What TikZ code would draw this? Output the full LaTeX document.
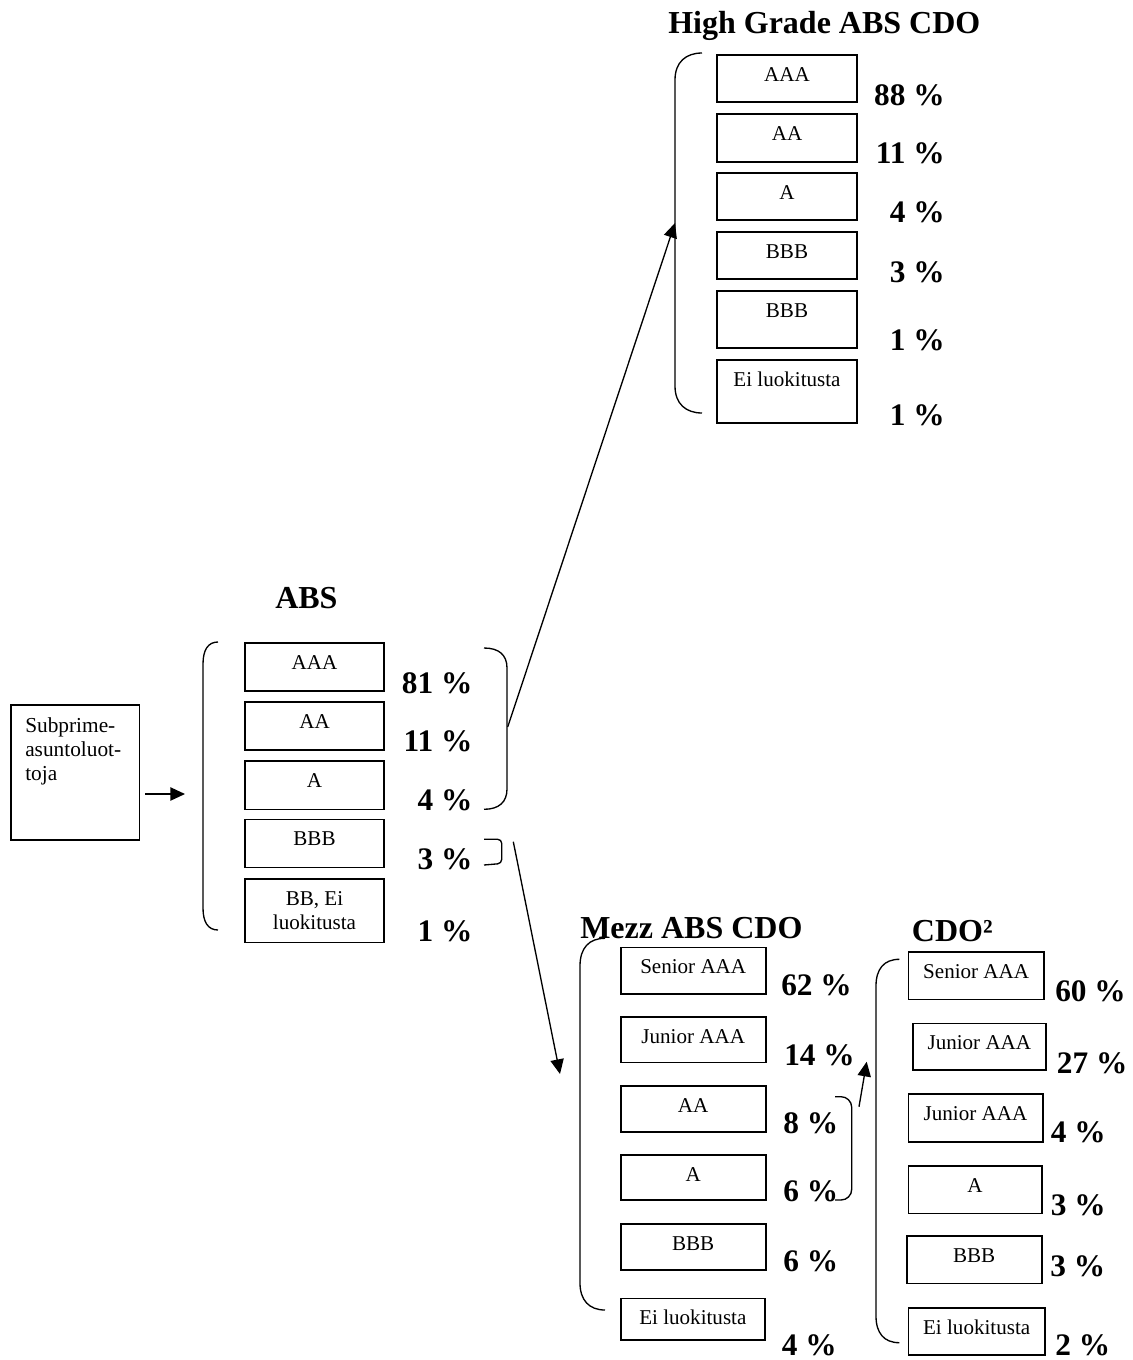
\documentclass[tikz,border=0pt]{standalone}
\usepackage{fontspec}
\setmainfont{Liberation Serif}
\usetikzlibrary{arrows.meta}

\tikzset{
  tbox/.style={draw, line width=1.2pt, inner sep=0pt, outer sep=0pt, anchor=north west},
  rating/.style={font=\fontsize{15.8}{18}\selectfont, inner sep=0pt, anchor=base, align=center},
  pct/.style={font=\fontsize{23.5}{28}\selectfont\bfseries, inner sep=0pt},
  ttl/.style={font=\fontsize{24}{28}\selectfont\bfseries, inner sep=0pt, anchor=base west},
  brace/.style={line width=1pt},
  flow/.style={line width=1pt, -{Triangle[length=11pt,width=10pt]}},
}

% tranche box: [baseline of last label line below the top], name, x1, y1, x2, y2, label
\newcommand\tranche[7][19.9pt]{%
  \node[tbox, minimum width={(#5-#3)*0.75pt}, minimum height={(#6-#4)*0.75pt}] (#2) at (#3,#4) {};
  \node[rating] (#2-txt) at ([yshift=-#1]#2.north) {#7};
}

\begin{document}
\begin{tikzpicture}[x=0.75pt, y=-0.75pt]
\useasboundingbox (0,0) rectangle (1132,1360);

% ---------------- source pool ----------------
\node[tbox, minimum width={128.6*0.75pt}, minimum height={135*0.75pt}] (sub) at (10.7,705) {};
\node[font=\fontsize{16}{18}\selectfont, inner sep=0pt, anchor=base west, align=left] (sub-txt)
  at (25,780) {Subprime-\\asuntoluot-\\toja};

% ---------------- ABS ----------------
\node[ttl] (abs-title) at (275,608) {ABS};
\tranche{abs1}{245}{642.7}{384}{690.7}{AAA}
\tranche{abs2}{245}{701.7}{384}{750}{AA}
\tranche{abs3}{245}{760.7}{384}{809.3}{A}
\tranche{abs4}{245}{819.3}{384}{867.3}{BBB}
\tranche[37.7pt]{abs5}{245}{879}{384}{942.3}{BB, Ei\\luokitusta}
\node[pct, anchor=base east] (absp1) at (472.7,693) {81 \%};
\node[pct, anchor=base east] (absp2) at (472.7,751.7) {11 \%};
\node[pct, anchor=base east] (absp3) at (472.7,810) {4 \%};
\node[pct, anchor=base east] (absp4) at (472.7,869.3) {3 \%};
\node[pct, anchor=base east] (absp5) at (472.7,941.7) {1 \%};

% ---------------- High Grade ABS CDO ----------------
\node[ttl] (hg-title) at (668,33) {High Grade ABS CDO};
\tranche{hg1}{717}{55}{857}{102}{AAA}
\tranche{hg2}{717}{114}{857}{162}{AA}
\tranche{hg3}{717}{173}{857}{220}{A}
\tranche{hg4}{717}{232}{857}{279}{BBB}
\tranche{hg5}{717}{291}{857}{348}{BBB}
\tranche{hg6}{717}{360}{857}{423}{Ei luokitusta}
\node[pct, anchor=base east] (hgp1) at (945,105) {88 \%};
\node[pct, anchor=base east] (hgp2) at (945,163) {11 \%};
\node[pct, anchor=base east] (hgp3) at (945,222) {4 \%};
\node[pct, anchor=base east] (hgp4) at (945,282) {3 \%};
\node[pct, anchor=base east] (hgp5) at (945,350) {1 \%};
\node[pct, anchor=base east] (hgp6) at (945,425) {1 \%};

% ---------------- Mezz ABS CDO ----------------
\node[ttl] (mz-title) at (580,938.3) {Mezz ABS CDO};
\tranche{mz1}{620.7}{947.3}{765.7}{994}{Senior AAA}
\tranche{mz2}{620.7}{1016.7}{765.7}{1062.3}{Junior AAA}
\tranche{mz3}{620.7}{1085.7}{765.7}{1131.7}{AA}
\tranche{mz4}{620.7}{1155}{765.7}{1200}{A}
\tranche{mz5}{620.7}{1224}{765.7}{1270}{BBB}
\tranche{mz6}{620.7}{1298.3}{765}{1340}{Ei luokitusta}
\node[pct, anchor=base west] (mzp1) at (781,995) {62 \%};
\node[pct, anchor=base west] (mzp2) at (784,1065) {14 \%};
\node[pct, anchor=base west] (mzp3) at (783,1133.3) {8 \%};
\node[pct, anchor=base west] (mzp4) at (783,1201.7) {6 \%};
\node[pct, anchor=base west] (mzp5) at (783,1271.7) {6 \%};
\node[pct, anchor=base west] (mzp6) at (781.7,1355) {4 \%};

% ---------------- CDO squared ----------------
\node[ttl] (cd-title) at (911.7,941.7) {CDO²};
\tranche{cd1}{908.3}{951.7}{1044}{999.3}{Senior AAA}
\tranche{cd2}{912.7}{1023.3}{1046}{1070}{Junior AAA}
\tranche{cd3}{908.3}{1094}{1042.7}{1141.7}{Junior AAA}
\tranche{cd4}{908.3}{1165.7}{1041.7}{1213.3}{A}
\tranche{cd5}{906.7}{1236}{1041.7}{1283.3}{BBB}
\tranche{cd6}{908.3}{1308}{1045}{1355}{Ei luokitusta}
\node[pct, anchor=base west] (cdp1) at (1055,1001.7) {60 \%};
\node[pct, anchor=base west] (cdp2) at (1056.7,1073.3) {27 \%};
\node[pct, anchor=base west] (cdp3) at (1050.7,1142.7) {4 \%};
\node[pct, anchor=base west] (cdp4) at (1050.7,1215) {3 \%};
\node[pct, anchor=base west] (cdp5) at (1050,1276.7) {3 \%};
\node[pct, anchor=base west] (cdp6) at (1055,1355.5) {2 \%};

% ---------------- braces ----------------
% ABS pool
\draw[brace] (218,642) .. controls (208,642) and (203,650) .. (203,664) -- (203,908)
  .. controls (203,922) and (208,930) .. (218,930);
% AAA--A share of ABS, feeding the high grade deal
\draw[brace] (484,648) .. controls (499,648) and (507,655) .. (507,668) -- (507,789)
  .. controls (507,802) and (499,809.3) .. (484,809.3);
\coordinate (abs-top) at (507.7,727);
% BBB share of ABS, feeding the mezzanine deal
\draw[brace, rounded corners=3pt] (484,839.3) -- (501.7,839.3) -- (501.7,863.5) -- (484,865);
\coordinate (abs-bbb) at (513.3,841.7);
% high grade pool
\draw[brace] (702,53) .. controls (686,53) and (675,62) .. (675,80) -- (675,386)
  .. controls (675,404) and (686,413) .. (702,413);
\coordinate (hg-in) at (675,223);
% mezzanine pool
\draw[brace] (605,938.3) .. controls (589,938.3) and (580,948) .. (580,966) -- (580,1283)
  .. controls (580,1300) and (589,1310) .. (605,1310);
\coordinate (mz-in) at (560,1074);
% AA--A share of the mezzanine deal
\draw[brace, rounded corners=8pt] (835,1096.7) -- (851.7,1096.7) -- (851.7,1200) -- (835,1200);
\coordinate (mz-aa) at (859,1106.7);
% CDO squared pool
\draw[brace] (899.3,959.3) .. controls (884,959.3) and (876,969) .. (876,986) -- (876,1316)
  .. controls (876,1333) and (884,1342.7) .. (899.3,1342.7);
\coordinate (cd-in) at (866.7,1061.7);

% ---------------- flows ----------------
\coordinate (sub-out) at (145,794);
\coordinate (abs-in) at (185,794);
\draw[flow] (sub-out) -- (abs-in);
\draw[flow] (abs-top) -- (hg-in);
\draw[flow] (abs-bbb) -- (mz-in);
\draw[flow] (mz-aa) -- (cd-in);
\end{tikzpicture}
\end{document}
